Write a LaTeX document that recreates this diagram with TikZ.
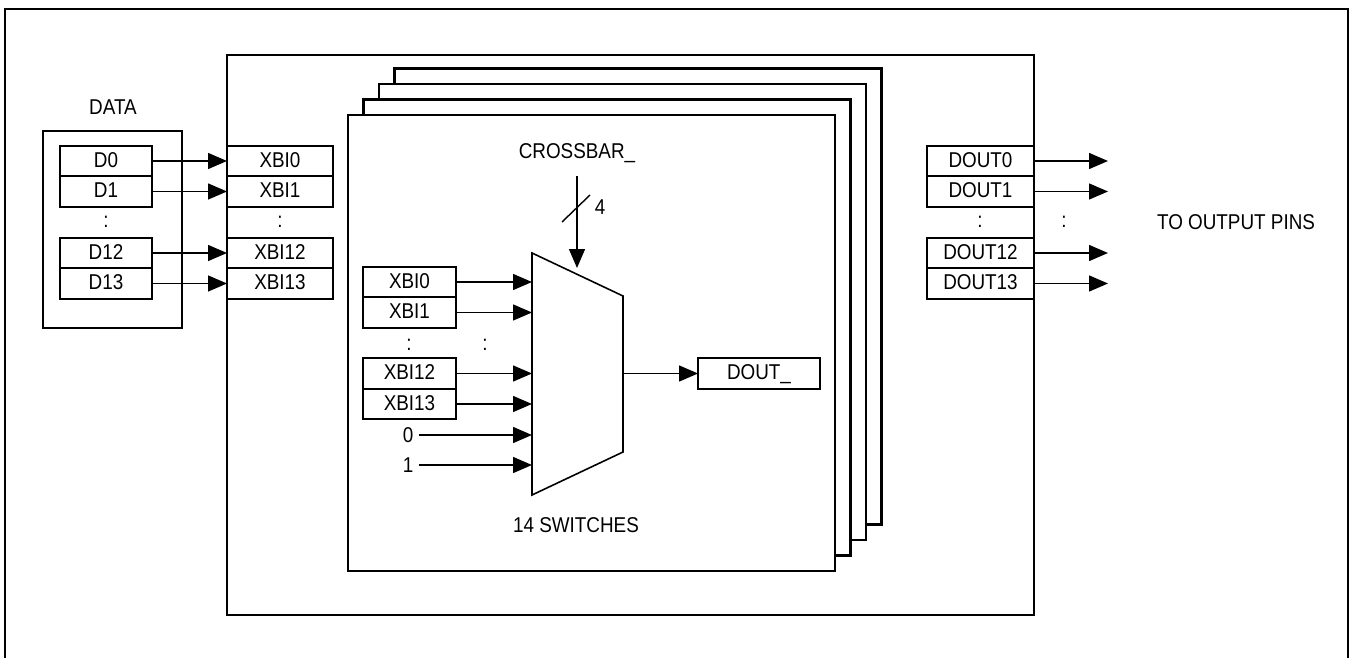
\documentclass[tikz,border=0pt]{standalone}
\usepackage{fontspec}
\setmainfont[FakeStretch=0.88]{Liberation Sans}
\usetikzlibrary{positioning,arrows.meta}

\begin{document}
\begin{tikzpicture}[%
    x=0.02cm,
    y=-0.02cm,
    font=\fontsize{12.2pt}{14pt}\selectfont,
    arr/.style={%
      -{Triangle[length=0.38cm,width=0.32cm]},
      line width=0.8pt
    },
    frame/.style={draw, line width=1.2pt},
    cell/.style={%
      draw,
      line width=1.2pt,
      minimum height=0.61cm,
      inner sep=0pt,
      outer sep=0pt,
      text height=1.6ex,
      text depth=0.2ex
    },
    dcell/.style={cell, minimum width=1.84cm},
    xcell/.style={cell, minimum width=2.12cm},
    icell/.style={cell, minimum width=1.86cm},
    ocell/.style={cell, minimum width=2.14cm}
  ]
    \useasboundingbox (0,0) rectangle (1351,658);

    % outer frame, open at the bottom
    \draw[frame] (5,690) -- (5,9) -- (1348,9) -- (1348,690);

    % crossbar block and its stacked copies
    \draw[frame] (227,55) rectangle (1034,615);
    \foreach \k in {3,2,1}
      \draw[frame, fill=white] ({348+15.5*\k},{115-15.5*\k}) rectangle ({835+15.5*\k},{571-15.5*\k});
    \draw[frame, fill=white] (348,115) rectangle (835,571);

    % data block
    \draw[frame] (43,131) rectangle (182,328);
    \node (data) at (113,107) {DATA};
    \node[dcell] (d0)                     at (106,161)   {D0};
    \node[dcell] (d1)  [below=0pt of d0]                 {D1};
    \node        (ddots)                  at (106,222)   {:};
    \node[dcell] (d12)                    at (106,253)   {D12};
    \node[dcell] (d13) [below=0pt of d12]                {D13};

    \node[xcell] (xbi0)                       at (280,161) {XBI0};
    \node[xcell] (xbi1)  [below=0pt of xbi0]               {XBI1};
    \node        (xdots)                      at (280,222) {:};
    \node[xcell] (xbi12)                      at (280,253) {XBI12};
    \node[xcell] (xbi13) [below=0pt of xbi12]              {XBI13};

    \draw[arr] (d0) -- (xbi0);
    \draw[arr] (d1) -- (xbi1);
    \draw[arr] (d12) -- (xbi12);
    \draw[arr] (d13) -- (xbi13);

    % switch inputs
    \node[icell] (ixbi0)                        at (409.5,282)   {XBI0};
    \node[icell] (ixbi1)  [below=0pt of ixbi0]                   {XBI1};
    \node        (idots)                        at (409,345)     {:};
    \node        (adots)                        at (485,345)     {:};
    \node[icell] (ixbi12)                       at (409.5,373.5) {XBI12};
    \node[icell] (ixbi13) [below=0pt of ixbi12]                  {XBI13};
    \node        (zero)                         at (408,435)     {0};
    \node        (one)                          at (408,465)     {1};

    % switch
    \draw[line width=0.9pt] (532,253) -- (623,296) -- (623,452) -- (532,495) -- cycle;
    \coordinate (muxl) at (532,0);
    \coordinate (muxout) at (623,373.5);

    \draw[arr] (ixbi0) -- (ixbi0 -| muxl);
    \draw[arr] (ixbi1) -- (ixbi1 -| muxl);
    \draw[arr] (ixbi12) -- (ixbi12 -| muxl);
    \draw[arr] (ixbi13) -- (ixbi13 -| muxl);
    \draw[arr] (zero) -- (zero -| muxl);
    \draw[arr] (one) -- (one -| muxl);

    \node[cell, minimum width=2.44cm] (dout) at (759,373.5) {DOUT\_};
    \draw[arr] (muxout) -- (dout);

    % select bus
    \node (xbar) at (577,153) {CROSSBAR\_};
    \coordinate (selsrc) at (577,176);
    \coordinate (seltip) at (577,268);
    \draw[arr] (selsrc) -- (seltip);
    \draw[line width=0.8pt] (562,222) -- (590,195);
    \node (buswidth) at (600,207) {4};

    \node (switches) at (576,525) {14 SWITCHES};

    % outputs
    \node[ocell] (dout0)                        at (980.5,161) {DOUT0};
    \node[ocell] (dout1)  [below=0pt of dout0]                 {DOUT1};
    \node        (odots)                        at (980,222)   {:};
    \node[ocell] (dout12)                       at (980.5,253) {DOUT12};
    \node[ocell] (dout13) [below=0pt of dout12]                {DOUT13};
    \node        (pdots)                        at (1064,222)  {:};

    \coordinate (pins) at (1108,0);
    \draw[arr] (dout0) -- (dout0 -| pins);
    \draw[arr] (dout1) -- (dout1 -| pins);
    \draw[arr] (dout12) -- (dout12 -| pins);
    \draw[arr] (dout13) -- (dout13 -| pins);

    \node (topins) at (1236,222) {TO OUTPUT PINS};
  \end{tikzpicture}
\end{document}
